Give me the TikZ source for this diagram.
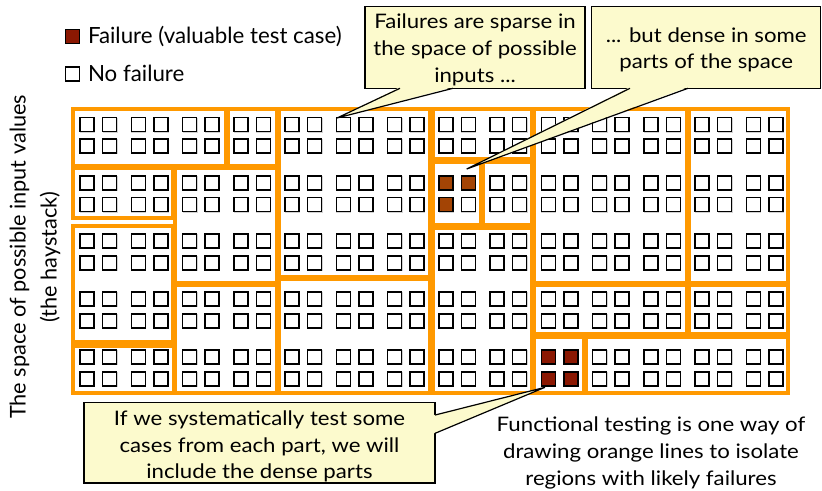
\documentclass[tikz,border=0pt]{standalone}
\usepackage{fontspec}
\setmainfont{Lato}
\newfontfamily\callfont[FakeStretch=1.11]{Lato}
\usetikzlibrary{calc}
\definecolor{orng}{RGB}{255,153,0}
\definecolor{callfill}{RGB}{252,250,205}
\definecolor{failA}{RGB}{163,68,5}
\definecolor{failB}{RGB}{139,24,2}
\begin{document}
\begin{tikzpicture}[x=1pt,y=-1pt,
  region/.style={draw=orng, line width=3.3pt},
  cell/.style={draw=black, line width=1.7pt, fill=white},
  cellshadow/.style={draw=gray!35, line width=1pt},
  callbox/.style={draw=black, line width=1.2pt, fill=callfill, inner sep=0pt, outer sep=0pt},
  calltext/.style={inner sep=0pt, outer sep=0pt, align=center, font=\callfont\fontsize{20}{26.7}\selectfont},
  callline/.style={draw=black, line width=1.2pt},
  legtext/.style={inner sep=0pt, outer sep=0pt, anchor=base west, font=\fontsize{22.3}{26}\selectfont}
]
\useasboundingbox (0,0) rectangle (822,490);

% ---- grid of test cases ----
\foreach \i in {0,...,13}{
  \foreach \r in {0,...,4}{
    \foreach \c in {0,1}{
      \foreach \s in {0,1}{
        \pgfmathsetmacro{\xx}{79.3+51.25*\i+22.5*\c}
        \pgfmathsetmacro{\yy}{116.7+58.2*\r+21.8*\s}
        \draw[cellshadow] (\xx+1.4,\yy+1.4) rectangle ++(14,14);
        \draw[cell] (\xx+0.8,\yy+0.8) rectangle ++(14,14);
      }}}}

% failures in region K (pair 7, block row 1)
\foreach \c/\s in {0/0,1/0,0/1}{
  \pgfmathsetmacro{\xx}{79.3+51.25*7+22.5*\c}
  \pgfmathsetmacro{\yy}{116.7+58.2*1+21.8*\s}
  \draw[cell, fill=failA] (\xx+0.8,\yy+0.8) rectangle ++(14,14);
}
% failures in region R (pair 9, block row 4)
\foreach \c/\s in {0/0,1/0,0/1,1/1}{
  \pgfmathsetmacro{\xx}{79.3+51.25*9+22.5*\c}
  \pgfmathsetmacro{\yy}{116.7+58.2*4+21.8*\s}
  \draw[cell, fill=failB] (\xx+0.8,\yy+0.8) rectangle ++(14,14);
}

% ---- orange partition regions ----
\draw[region] (73,109) rectangle (226,166);   % A
\draw[region] (228,109) rectangle (277,166);  % B
\draw[region] (279,109) rectangle (430,277);  % C
\draw[region] (73,168) rectangle (173,218);   % D
\draw[region] (73,226) rectangle (173,342);   % E
\draw[region] (73,346) rectangle (174,393);   % F
\draw[region] (175,168) rectangle (277,283);  % G
\draw[region] (175,285) rectangle (277,393);  % H
\draw[region] (279,279) rectangle (430,393);  % I
\draw[region] (433,109) rectangle (532,159);  % J
\draw[region] (433,162) rectangle (481,225);  % K
\draw[region] (483,162) rectangle (532,225);  % L
\draw[region] (433,228) rectangle (532,393);  % M
\draw[region] (534,109) rectangle (687,283);  % N
\draw[region] (689,109) rectangle (788,283);  % O
\draw[region] (534,285) rectangle (687,334);  % P
\draw[region] (689,285) rectangle (788,334);  % Q
\draw[region] (534,337) rectangle (584,393);  % R
\draw[region] (586,337) rectangle (788,393);  % S

% ---- legend ----
\node[draw=black, line width=1.2pt, fill=failB, minimum size=14pt, inner sep=0pt] (legfail) at (72.5,36.5) {};
\node[legtext] (legfailtxt) at (88,43.3) {Failure (valuable test case)};
\node[draw=black, line width=1.2pt, fill=white, minimum size=14pt, inner sep=0pt] (legok) at (72.5,74) {};
\node[legtext] (legoktxt) at (88,81.7) {No failure};

% ---- axis label ----
\node[rotate=90, inner sep=0pt, align=center, font=\fontsize{21.7}{31}\selectfont] (ylab) at (35,257)
  {The space of possible input values\\(the haystack)};

% ---- callout A ----
\node[callbox, minimum width=220pt, minimum height=81.6pt] (cA) at (475,47.5) {};
\coordinate (tA) at (337,118);
\fill[callfill] ($(cA.south west)+(35,-1.2)$) -- (tA) -- ($(cA.south west)+(88,-1.2)$) -- cycle;
\draw[callline] ($(cA.south west)+(35,0)$) -- (tA) -- ($(cA.south west)+(88,0)$);
\node[calltext] (cAtext) at ($(cA.center)+(0,2.2)$)
  {Failures are sparse in\\the space of possible\\inputs ...};

% ---- callout B ----
\node[callbox, minimum width=229pt, minimum height=81.6pt] (cB) at (706.2,47.5) {};
\coordinate (tB) at (466.7,169);
\fill[callfill] ($(cB.south west)+(38.3,-1.2)$) -- (tB) -- ($(cB.south west)+(96.3,-1.2)$) -- cycle;
\draw[callline] ($(cB.south west)+(38.3,0)$) -- (tB) -- ($(cB.south west)+(96.3,0)$);
\node[calltext] (cBtext) at ($(cB.center)+(0,2.2)$)
  {... but dense in some\\parts of the space};

% ---- callout C ----
\node[callbox, minimum width=351pt, minimum height=80.3pt] (cC) at (259.5,442.9) {};
\coordinate (tC) at (545,387.3);
\fill[callfill] ($(cC.north east)+(-1.2,12.3)$) -- (tC) -- ($(cC.north east)+(-1.2,30.6)$) -- cycle;
\draw[callline] ($(cC.north east)+(0,12.3)$) -- (tC) -- ($(cC.north east)+(0,30.6)$);
\node[calltext] (cCtext) at ($(cC.center)+(0,3.5)$)
  {If we systematically test some\\cases from each part, we will\\include the dense parts};

% ---- note ----
\node[calltext] (note) at (651,453)
  {Functional testing is one way of\\drawing orange lines to isolate\\regions with likely failures};
\end{tikzpicture}
\end{document}
